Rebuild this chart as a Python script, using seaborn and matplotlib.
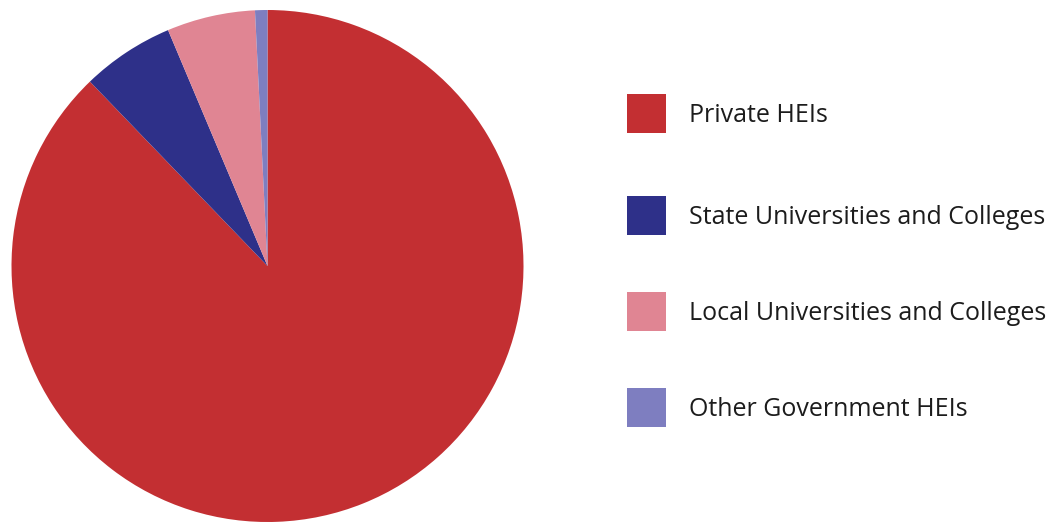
import matplotlib
matplotlib.use("Agg")
import matplotlib.pyplot as plt
from matplotlib.patches import Rectangle
import seaborn as sns

categories = ["Private HEIs", "State Universities and Colleges",
              "Local Universities and Colleges", "Other Government HEIs"]
shares = [87.8, 5.85, 5.57, 0.78]
colors = ["#C32F32", "#2E3089", "#E08593", "#7E7EC0"]

sns.set_theme(style="white")
plt.rcParams["font.family"] = ["Open Sans", "DejaVu Sans"]

W, H = 1054, 522
fig = plt.figure(figsize=(W / 100, H / 100), dpi=100)
fig.patch.set_facecolor("white")

# pie
cx, cy, r = 267.5, 256, 256
ax = fig.add_axes([(cx - r) / W, (cy - r) / H, 2 * r / W, 2 * r / H])
ax.pie(shares, colors=colors, startangle=90, counterclock=False,
       radius=1.0, wedgeprops=dict(linewidth=0))
ax.set_xlim(-1, 1)
ax.set_ylim(-1, 1)
ax.set_aspect("equal")
ax.axis("off")

# key: colour squares with labels, in pixel units from the top-left
box_x, box_size, text_x = 627, 39, 689
row_centers = [113, 216, 311.5, 407]
for label, color, yc in zip(categories, colors, row_centers):
    fig.add_artist(Rectangle((box_x / W, 1 - (yc + box_size / 2) / H),
                             box_size / W, box_size / H,
                             transform=fig.transFigure,
                             facecolor=color, edgecolor="none"))
    fig.text(text_x / W, 1 - (yc + 8.5) / H, label, fontsize=18,
             color="#1c1c1c", ha="left", va="baseline")

fig.savefig("out.png", dpi=100, facecolor="white")
